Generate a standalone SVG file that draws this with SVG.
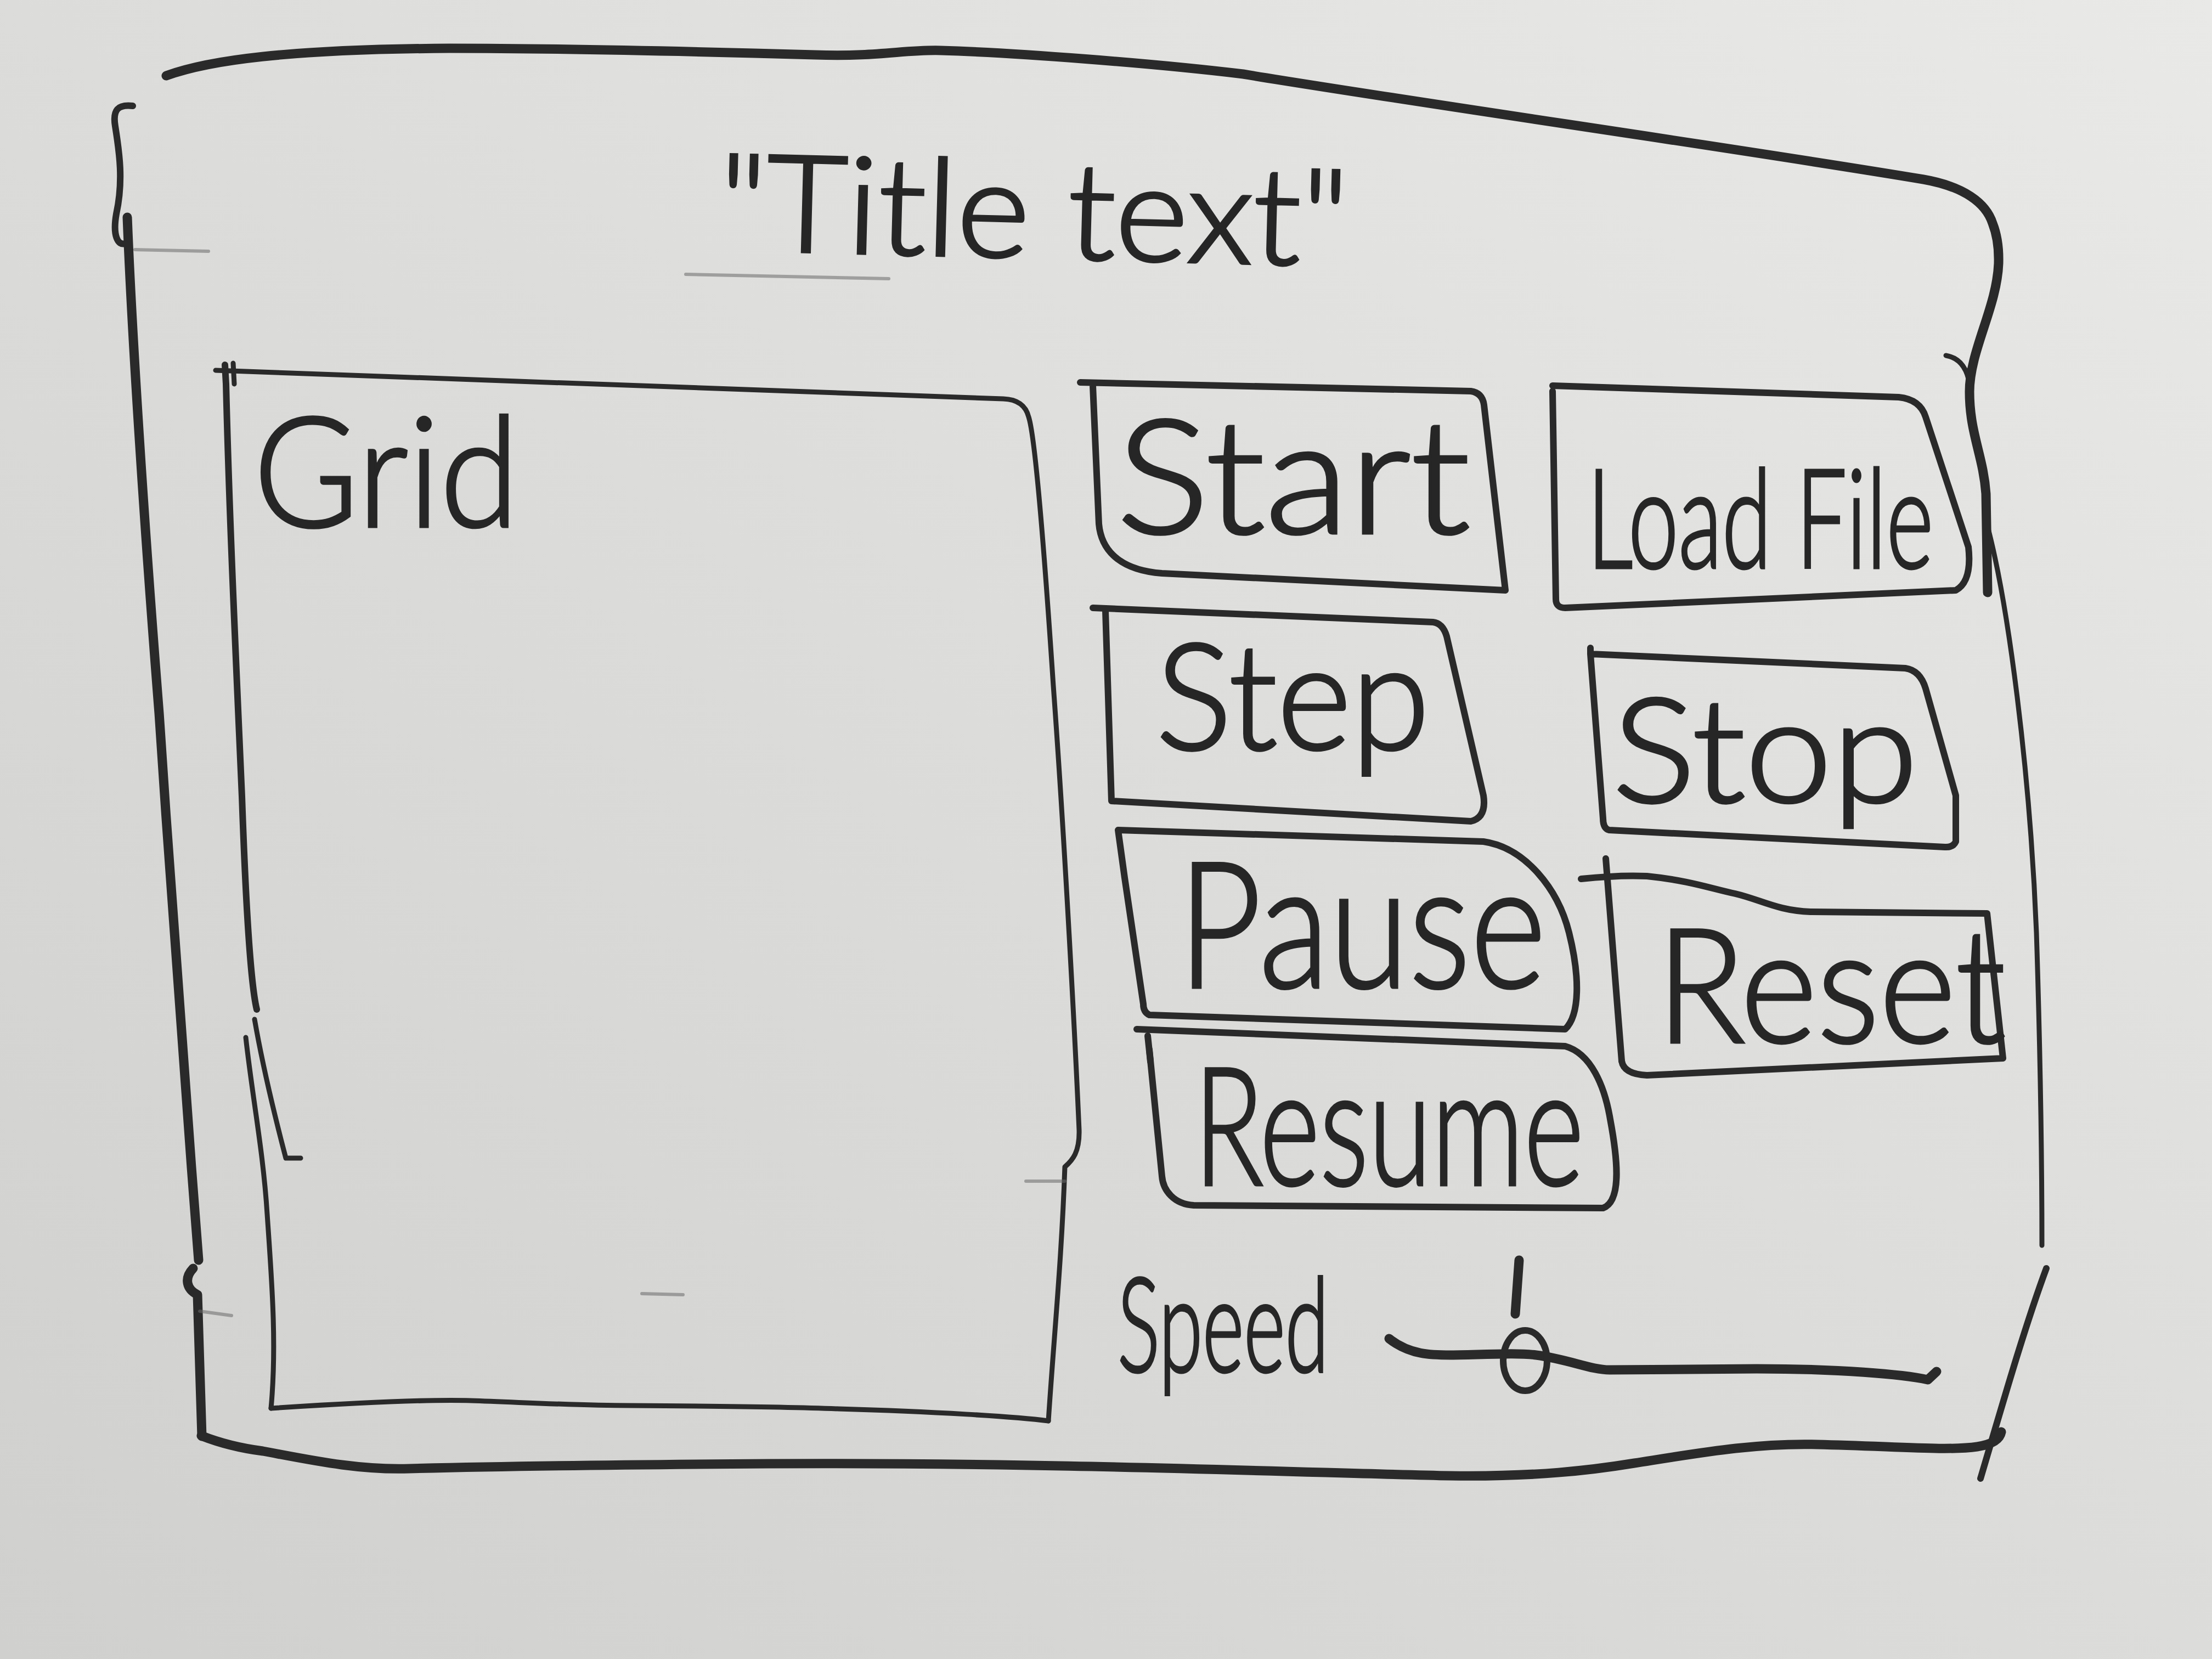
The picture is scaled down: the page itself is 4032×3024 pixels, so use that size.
<svg xmlns="http://www.w3.org/2000/svg" width="4032" height="3024" viewBox="0 0 4032 3024">
<defs>
<linearGradient id="board" x1="1" y1="0" x2="0" y2="1">
<stop offset="0" stop-color="#e9e9e7"/>
<stop offset="0.5" stop-color="#dcdcda"/>
<stop offset="1" stop-color="#d0d0ce"/>
</linearGradient>
<style>
.ink{fill:none;stroke:#2a2a2a;stroke-linecap:round;stroke-linejoin:round}
.thick{stroke-width:17}
.mid{stroke-width:12}
.thin{stroke-width:9}
.faint{fill:none;stroke:#6a6a6a;stroke-width:6;stroke-opacity:0.55;stroke-linecap:round}
.lbl{font-family:Lato,"Liberation Sans",Arial,sans-serif;font-weight:300;fill:#262626;stroke:#262626;stroke-width:5}
</style>
</defs>
<rect width="4032" height="3024" fill="url(#board)"/>

<g id="window-frame">
<path class="ink thick" d="M303,138 C380,110 520,90 820,88 C1000,88 1200,92 1486,100 C1600,104 1650,90 1715,92 C1850,96 2100,115 2266,135 C2600,190 3184,273 3506,327 C3580,340 3620,370 3632,407 C3645,440 3643,470 3643,480 C3640,560 3590,640 3590,714 C3590,790 3615,830 3620,900 L3623,1080"/>
<path class="ink thin" d="M3547,648 C3570,652 3585,668 3590,700"/>
<path class="ink thin" d="M3623,960 C3660,1100 3700,1400 3712,1700 C3720,1950 3722,2150 3722,2270"/>
<path class="ink mid" d="M3730,2312 C3690,2420 3650,2560 3610,2695"/>
<path class="ink thick" d="M367,2617 C400,2630 440,2640 479,2645 C560,2660 650,2680 746,2677 C900,2673 1100,2670 1400,2668 C1900,2665 2400,2685 2644,2690 C2800,2692 2900,2680 2979,2667 C3100,2648 3200,2630 3313,2633 C3450,2636 3550,2645 3604,2637 C3630,2633 3645,2625 3648,2610"/>
<path class="ink thick" d="M232,396 C240,600 262,945 290,1300 C311,1621 340,2000 349,2128 L362,2297"/>
<path class="ink thick" d="M352,2312 C335,2330 340,2350 360,2360 L368,2618"/>
<path class="ink mid" d="M242,193 C215,190 205,200 210,230 C218,280 225,330 212,390 C205,430 215,448 228,444"/>
<path class="faint" d="M246,455 L380,458"/>
<path class="faint" d="M364,2390 L422,2398"/>
<path class="faint" d="M1250,500 L1620,508"/>
</g>

<g id="title">
<text class="lbl" x="1308" y="470" font-size="246" textLength="1148" lengthAdjust="spacingAndGlyphs" transform="rotate(1.5 1880 470)">"Title text"</text>
</g>

<g id="grid">
<path class="ink thin" d="M393,675 L1829,727 C1855,728 1870,740 1875,760 C1885,790 1900,950 1920,1250 C1941,1537 1960,1900 1967,2060 C1968,2100 1955,2115 1941,2127 C1935,2300 1920,2450 1911,2590"/>
<path class="ink thin" d="M494,2567 C600,2560 760,2550 858,2553 C950,2556 1050,2562 1148,2562 C1300,2563 1450,2565 1528,2568 C1700,2573 1850,2582 1911,2590"/>
<path class="ink mid" d="M410,665 L412,700 C418,945 430,1200 441,1452 C448,1650 456,1790 468,1840"/>
<path class="ink thin" d="M448,1891 C460,2000 480,2100 487,2213 C495,2330 505,2450 494,2567"/>
<path class="ink thin" d="M464,1858 C480,1950 505,2050 521,2111 L548,2111"/>
<path class="ink thin" d="M425,662 L427,700"/>
<path class="faint" d="M1870,2153 L1941,2153"/>
<path class="faint" d="M1170,2358 L1245,2360"/>
<text class="lbl" x="462" y="960" font-size="280" textLength="484" lengthAdjust="spacingAndGlyphs">Grid</text>
</g>

<g id="btn-start">
<path class="ink mid" d="M1969,697 L2681,713 Q2702,716 2705,738 L2744,1076 L2118,1045 C2050,1040 2008,1010 2003,955 L1992,703"/>
<text class="lbl" x="2035" y="972" font-size="290" textLength="645" lengthAdjust="spacingAndGlyphs">Start</text>
</g>

<g id="btn-load-file">
<path class="ink mid" d="M2830,703 L3461,724 Q3500,728 3510,760 L3588,997 Q3595,1060 3565,1076 L2853,1108 Q2836,1108 2836,1092 L2830,713"/>
<text class="lbl" x="2893" y="1035" font-size="250" textLength="631" lengthAdjust="spacingAndGlyphs">Load File</text>
</g>

<g id="btn-step">
<path class="ink mid" d="M1992,1108 L2612,1134 Q2630,1136 2637,1160 L2704,1450 Q2710,1490 2681,1497 L2026,1460 L2015,1113"/>
<text class="lbl" x="2107" y="1366" font-size="270" textLength="499" lengthAdjust="spacingAndGlyphs">Step</text>
</g>

<g id="btn-stop">
<path class="ink mid" d="M2899,1181 L2899,1192 L3473,1218 Q3500,1222 3510,1255 L3565,1450 L3565,1534 Q3560,1545 3545,1544 L2933,1513 Q2922,1510 2922,1492 L2899,1192"/>
<text class="lbl" x="2939" y="1462" font-size="265" textLength="557" lengthAdjust="spacingAndGlyphs">Stop</text>
</g>

<g id="btn-pause">
<path class="ink mid" d="M2038,1513 L2704,1534 C2780,1545 2840,1620 2860,1700 C2880,1780 2880,1850 2853,1876 L2095,1850 Q2084,1845 2084,1830 L2050,1600 L2038,1513"/>
<text class="lbl" x="2147" y="1800" font-size="320" textLength="671" lengthAdjust="spacingAndGlyphs">Pause</text>
</g>

<g id="btn-reset">
<path class="ink mid" d="M2882,1602 C2920,1598 2960,1595 3002,1597 C3080,1605 3120,1620 3163,1629 C3210,1640 3240,1660 3300,1662 L3622,1665 L3651,1929 L3002,1960 Q2960,1958 2956,1934"/>
<path class="ink mid" d="M2927,1565 L2956,1934"/>
<text class="lbl" x="3019" y="1900" font-size="290" textLength="637" lengthAdjust="spacingAndGlyphs">Reset</text>
</g>

<g id="btn-resume">
<path class="ink mid" d="M2072,1876 L2853,1907 C2900,1920 2925,1980 2935,2040 C2950,2120 2955,2190 2922,2202 L2176,2197 C2140,2195 2120,2170 2118,2144 L2095,1913"/>
<path class="ink mid" d="M2092,1888 L2097,1935"/>
<text class="lbl" x="2176" y="2160" font-size="300" textLength="711" lengthAdjust="spacingAndGlyphs">Resume</text>
</g>

<g id="speed-slider">
<text class="lbl" x="2037" y="2500" font-size="240" textLength="385" lengthAdjust="spacingAndGlyphs">Speed</text>
<path class="ink thick" d="M2532,2440 C2570,2470 2610,2470 2644,2470 C2700,2470 2760,2465 2800,2470 C2860,2478 2900,2497 2934,2497 L3202,2495 C3350,2495 3470,2505 3514,2515 L3530,2500"/>
<ellipse class="ink mid" cx="2780" cy="2480" rx="40" ry="55"/>
<path class="ink thick" d="M2769,2297 L2762,2395"/>
</g>

<g id="connectors"/>
</svg>
